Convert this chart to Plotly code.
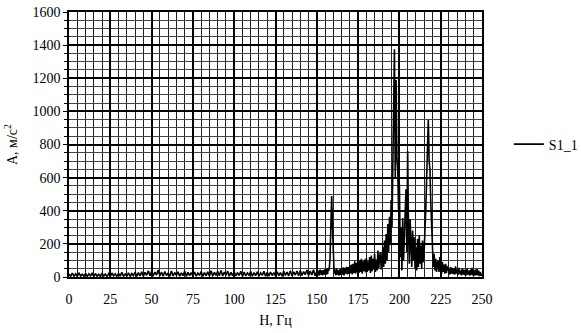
import plotly.graph_objects as go

# Baseline region 0..150 Hz (1 Hz step)
freq_low = list(range(0, 151))
amp_low = [
    18, 3, 24, 5, 20, 2, 26, 6, 17, 4, 22, 3, 19, 7, 25, 2, 21, 5, 16, 3, 23, 6, 18, 2, 20,
    4, 24, 7, 19, 3, 22, 5, 28, 4, 18, 6, 25, 3, 21, 8, 30, 4, 26, 6, 32, 5, 28, 10, 38, 8,
    34, 6, 30, 12, 42, 7, 29, 5, 33, 9, 24, 4, 36, 6, 27, 10, 31, 5, 25, 8, 35, 4, 28, 9, 26,
    6, 30, 5, 24, 10, 33, 4, 27, 8, 31, 6, 38, 5, 29, 9, 34, 7, 40, 6, 30, 10, 36, 5, 28, 8,
    32, 6, 26, 9, 35, 4, 29, 7, 24, 11, 33, 5, 27, 8, 31, 6, 25, 10, 34, 5, 28, 7, 30, 9, 26,
    6, 32, 8, 27, 5, 35, 10, 29, 7, 38, 6, 31, 12, 36, 8, 40, 9, 33, 14, 42, 10, 36, 12, 44, 8,
    30,
]

# Detailed region 150.5..250 Hz (0.5 Hz step)
freq_high = [150.5 + 0.5 * i for i in range(200)]
amp_high = [
    12, 38, 8, 45, 14, 40, 10, 42, 15,
    48, 12, 50, 18, 55, 40, 110, 250, 489, 300,
    120, 20, 45, 10, 50, 15, 42, 8, 48, 12,
    52, 14, 58, 10, 55, 20, 62, 15, 60, 18,
    70, 22, 75, 15, 80, 25, 95, 20, 85, 30,
    90, 25, 100, 30, 110, 20, 95, 35, 105, 28,
    115, 30, 95, 40, 120, 25, 130, 35, 110, 45,
    140, 30, 105, 40, 160, 50, 120, 150, 45, 130,
    180, 60, 220, 80, 260, 100, 320, 150, 364, 200,
    465, 300, 700, 1050, 1375, 600, 1190, 720, 650, 400,
    560, 120, 300, 40, 356, 100, 250, 300, 530, 150,
    761, 300, 80, 350, 250, 60, 280, 100, 240, 50,
    180, 40, 230, 60, 250, 80, 190, 50, 220, 90,
    160, 250, 420, 600, 800, 948, 700, 650, 450, 280,
    183, 60, 140, 40, 110, 30, 85, 100, 30, 120,
    60, 20, 90, 30, 75, 20, 80, 25, 65, 40,
    50, 15, 60, 20, 55, 18, 50, 15, 65, 20,
    45, 12, 55, 18, 40, 10, 50, 14, 45, 12,
    42, 10, 50, 15, 38, 8, 45, 12, 55, 10,
    40, 8, 45, 12, 48, 10, 38, 6, 30, 8,
    20,
]

freq = freq_low + freq_high
amp = amp_low + amp_high

x_ticks = [0, 25, 50, 75, 100, 125, 150, 175, 200, 225, 250]
y_ticks = [0, 200, 400, 600, 800, 1000, 1200, 1400, 1600]

font_family = "Times New Roman"

fig = go.Figure()
fig.add_trace(go.Scatter(
    x=freq, y=amp, mode="lines", name="S1_1",
    line=dict(color="black", width=1.6),
))

fig.update_layout(
    width=581, height=333,
    margin=dict(l=69, r=99, t=12, b=56, autoexpand=False),
    paper_bgcolor="white", plot_bgcolor="white",
    font=dict(family=font_family, size=14, color="black"),
    showlegend=True,
    legend=dict(x=1.065, xanchor="left", y=0.5, yanchor="middle",
                font=dict(family=font_family, size=14, color="black"),
                bgcolor="rgba(0,0,0,0)"),
)

fig.update_xaxes(
    range=[0, 250], tickvals=x_ticks, ticktext=[str(v) for v in x_ticks],
    showline=True, linecolor="black", linewidth=1.5, mirror=True,
    showgrid=True, gridcolor="black", gridwidth=1.5,
    minor=dict(dtick=5, showgrid=True, gridcolor="#222222", gridwidth=1.2),
    zeroline=False, ticks="", ticklabelstandoff=8, automargin=False,
    title=dict(text="Н, Гц", standoff=10, font=dict(family=font_family, size=14)),
)
fig.update_yaxes(
    range=[0, 1600], tickvals=y_ticks, ticktext=[str(v) for v in y_ticks],
    showline=True, linecolor="black", linewidth=1.5, mirror=True,
    showgrid=True, gridcolor="black", gridwidth=1.5,
    minor=dict(dtick=50, showgrid=True, gridcolor="#444444", gridwidth=1.2,
               ticks="outside", ticklen=3, tickcolor="black"),
    ticks="outside", ticklen=4, tickcolor="black",
    zeroline=False, automargin=False,
    title=dict(text="А, м/с<sup>2</sup>", standoff=12, font=dict(family=font_family, size=14)),
)

fig.write_html("out.html")
